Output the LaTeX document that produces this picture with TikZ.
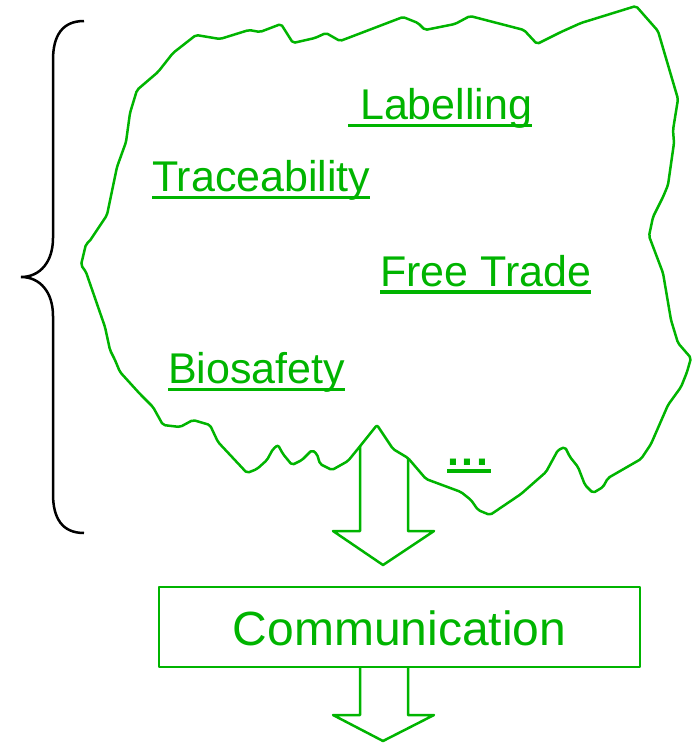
\documentclass[tikz,border=0pt]{standalone}
\usepackage{fontspec}
\setmainfont{Liberation Sans}
\definecolor{grn}{RGB}{0,180,0}
\newcommand\ulin[1]{\setbox0\hbox{#1}\rlap{\rule[-7.5pt]{\wd0}{3.3pt}}\box0}
\begin{document}
\begin{tikzpicture}[x=1pt,y=-1pt,
  outl/.style={draw=grn,line width=2.5pt,line join=round},
  lbl/.style={anchor=base west,inner sep=0pt,text=grn,font=\fontsize{43}{50}\selectfont}]
\useasboundingbox (0,0) rectangle (696,744);
% brace
\draw[line width=2.5pt,black] (84,21) .. controls (62,21) and (53,36) .. (53,60) -- (53,238)
  .. controls (53,262) and (40,277) .. (21,277) .. controls (40,277) and (53,292) .. (53,316)
  -- (53,494) .. controls (53,518) and (62,533) .. (84,533);
% arrow under cloud
\draw[outl,fill=white] (360,412) -- (360,531) -- (333,531) -- (383,565) -- (434,531) -- (408,531) -- (408,412) -- cycle;
% cloud
\draw[outl,fill=white,rounded corners=2pt] (196,35) -- (220,39) -- (249,30) -- (260,32) -- (281,24) -- (293,43) -- (315,38)
  -- (326,33) -- (340,41) -- (348,38) -- (403,17) -- (418,23) -- (425,30) -- (455,24) -- (470,16) -- (524,30)
  -- (537,44) -- (561,32) -- (581,23) -- (636,6) -- (658,31) -- (678,99) -- (673,130) -- (674,143) -- (668,185)
  -- (663,197) -- (653,217) -- (649,236) -- (663,273) -- (671,320) -- (678,343) -- (691,358) -- (687,372)
  -- (681,387) -- (668,405) -- (651,444) -- (641,459) -- (608,478) -- (603,487) -- (593,493) -- (585,485)
  -- (578,467) -- (570,457) -- (565,447) -- (558,450) -- (546,472) -- (521,494) -- (490,515) -- (478,510)
  -- (471,500) -- (461,492) -- (426,479) -- (408,458) -- (393,449) -- (377,425) -- (361,445) -- (348,461)
  -- (332,470) -- (320,464) -- (317,454) -- (312,450) -- (302,460) -- (292,465) -- (283,454) -- (278,445)
  -- (273,449) -- (267,460) -- (257,469) -- (247,473) -- (218,442) -- (210,425) -- (193,420) -- (180,427)
  -- (163,425) -- (153,407) -- (140,394) -- (120,372) -- (115,360) -- (110,350) -- (105,327) -- (87,275)
  -- (86,272) -- (81,265) -- (86,244) -- (89,242) -- (107,215) -- (117,167) -- (126,142) -- (130,113)
  -- (137,90) -- (158,72) -- (173,53) -- cycle;
% labels
\node[lbl] (lab) at (348,119.5) {\ulin{\ Labelling}};
\node[lbl] (tra) at (152,191.5) {\ulin{Traceability}};
\node[lbl] (fre) at (380,286) {\ulin{Free Trade}};
\node[lbl] (bio) at (168,383.5) {\ulin{Biosafety}};
\node[lbl] (dots) at (447,465) {\ulin{\bfseries .\kern2.6pt.\kern2.6pt.\kern3pt}};
% box
\node[outl,minimum width=481pt,minimum height=80pt,inner sep=0pt] (box) at (399.5,627) {};
\node[anchor=base,inner sep=0pt,text=grn,font=\fontsize{48}{56}\selectfont] (comm) at (399.5,645) {Communication};
% lower arrow
\draw[outl] (360,667) -- (360,715) -- (333,715) -- (383,741) -- (434,715) -- (408,715) -- (408,667);
\end{tikzpicture}
\end{document}
